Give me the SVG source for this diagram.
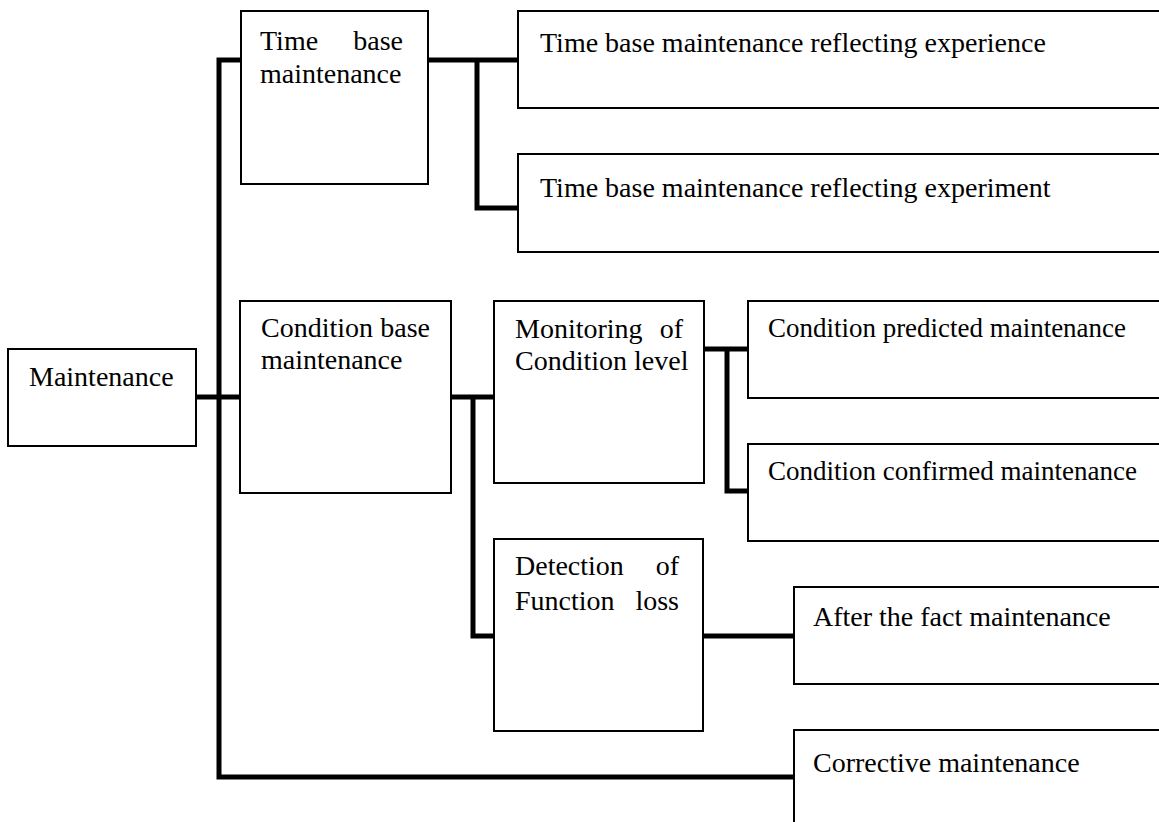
<svg xmlns="http://www.w3.org/2000/svg" width="1159" height="822" viewBox="0 0 1159 822">
<style>
.box{fill:#fff;stroke:#000;stroke-width:2}
.conn{fill:none;stroke:#000;stroke-width:5;stroke-linejoin:miter;stroke-linecap:butt}
text{font-family:"Liberation Serif","Times New Roman",serif;font-size:28px;fill:#000}
.e{text-anchor:end}
</style>
<rect width="1159" height="822" fill="#fff"/>
<g id="connectors">
<path class="conn" d="M241,60 H219 V777 H794"/>
<path class="conn" d="M196,397 H240"/>
<path class="conn" d="M428,60 H518 M477,60 V208 H518"/>
<path class="conn" d="M451,397 H494 M473,397 V636 H494"/>
<path class="conn" d="M704,349 H748 M727,349 V491 H748"/>
<path class="conn" d="M703,636 H794"/>
</g>
<g id="maintenance">
<rect class="box" x="8" y="349" width="188" height="97"/>
<text x="29" y="386">Maintenance</text>
</g>
<g id="time-base">
<rect class="box" x="241" y="11" width="187" height="173"/>
<text x="260" y="50">Time</text><text class="e" x="403" y="50">base</text>
<text x="260" y="83">maintenance</text>
</g>
<g id="tb-experience">
<rect class="box" x="518" y="11" width="660" height="97"/>
<text x="540" y="52">Time base maintenance reflecting experience</text>
</g>
<g id="tb-experiment">
<rect class="box" x="518" y="154" width="660" height="98"/>
<text x="540" y="197">Time base maintenance reflecting experiment</text>
</g>
<g id="condition-base">
<rect class="box" x="240" y="301" width="211" height="192"/>
<text x="261" y="337">Condition</text><text class="e" x="430" y="337">base</text>
<text x="261" y="369">maintenance</text>
</g>
<g id="monitoring">
<rect class="box" x="494" y="301" width="210" height="182"/>
<text x="515" y="338">Monitoring</text><text class="e" x="683" y="338">of</text>
<text x="515" y="370">Condition level</text>
</g>
<g id="detection">
<rect class="box" x="494" y="539" width="209" height="192"/>
<text x="515" y="575">Detection</text><text class="e" x="679" y="575">of</text>
<text x="515" y="610">Function</text><text class="e" x="679" y="610">loss</text>
</g>
<g id="cond-predicted">
<rect class="box" x="748" y="301" width="430" height="97"/>
<text x="768" y="337" textLength="358" lengthAdjust="spacingAndGlyphs">Condition predicted maintenance</text>
</g>
<g id="cond-confirmed">
<rect class="box" x="748" y="444" width="430" height="97"/>
<text x="768" y="480" textLength="369" lengthAdjust="spacingAndGlyphs">Condition confirmed maintenance</text>
</g>
<g id="after-fact">
<rect class="box" x="794" y="587" width="380" height="97"/>
<text x="813" y="626">After the fact maintenance</text>
</g>
<g id="corrective">
<rect class="box" x="794" y="730" width="380" height="110"/>
<text x="813" y="772">Corrective maintenance</text>
</g>
</svg>
